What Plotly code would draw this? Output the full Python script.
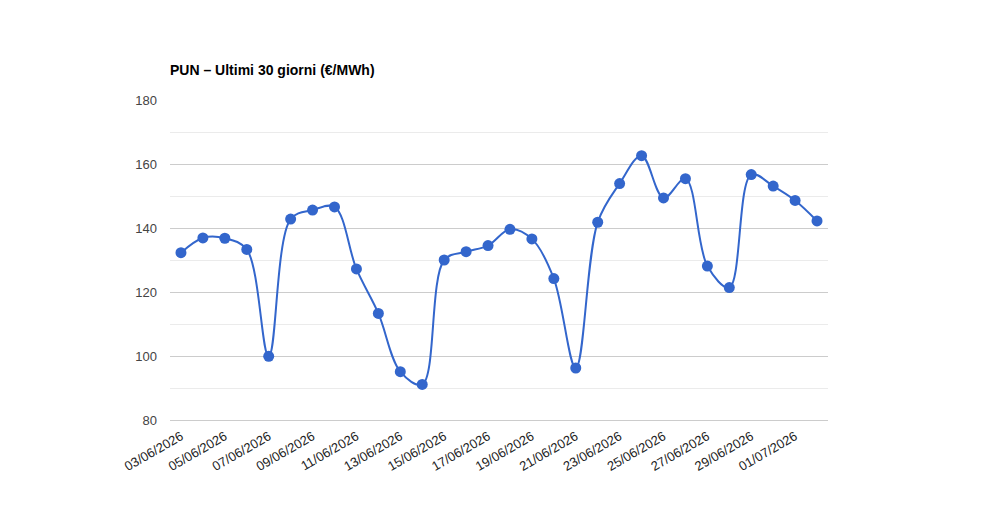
import plotly.graph_objects as go

dates = ["03/06/2026", "04/06/2026", "05/06/2026", "06/06/2026", "07/06/2026", "08/06/2026",
         "09/06/2026", "10/06/2026", "11/06/2026", "12/06/2026", "13/06/2026", "14/06/2026",
         "15/06/2026", "16/06/2026", "17/06/2026", "18/06/2026", "19/06/2026", "20/06/2026",
         "21/06/2026", "22/06/2026", "23/06/2026", "24/06/2026", "25/06/2026", "26/06/2026",
         "27/06/2026", "28/06/2026", "29/06/2026", "30/06/2026", "01/07/2026", "02/07/2026"]
pun = [132.3, 136.9, 136.8, 133.3, 99.9, 142.8, 145.6, 146.6, 127.2, 113.3, 95.1, 91.1,
       130.0, 132.6, 134.5, 139.6, 136.6, 124.2, 96.25, 141.8, 153.9, 162.6, 149.4, 155.4,
       128.1, 121.4, 156.7, 153.1, 148.6, 142.2]
tick_labels = dates[::2]
y_ticks = [80, 100, 120, 140, 160, 180]

FONT = "Arial, 'Liberation Sans', sans-serif"

fig = go.Figure()
fig.add_trace(go.Scatter(
    x=dates, y=pun, mode="lines+markers",
    line=dict(color="#3366cc", width=2, shape="spline", smoothing=1),
    marker=dict(color="#3366cc", size=11),
    hoverinfo="x+y", showlegend=False,
))

fig.update_layout(
    width=1000, height=520,
    margin=dict(l=170, r=172, t=100, b=100),
    paper_bgcolor="white", plot_bgcolor="white",
    font=dict(family=FONT, size=13, color="#444444"),
    title=dict(text="<b>PUN – Ultimi 30 giorni (€/MWh)</b>",
               x=170/1000, xref="container", xanchor="left",
               y=1 - 70/520, yref="container", yanchor="middle",
               font=dict(family=FONT, size=14, color="#000000")),
    xaxis=dict(type="category", range=[-0.5, len(dates) - 0.5],
               tickmode="array", tickvals=tick_labels, ticktext=tick_labels,
               tickangle=-30, showgrid=False, zeroline=False,
               showline=True, linecolor="#cccccc", linewidth=1,
               ticks="", ticklabelstandoff=3, tickfont=dict(size=13, color="#222222")),
    yaxis=dict(range=[80, 180], tickvals=y_ticks, showgrid=True, gridcolor="#cccccc",
               gridwidth=1, zeroline=False, showline=False, ticks="",
               ticklabelstandoff=12,
               minor=dict(dtick=10, tick0=80, showgrid=True, gridcolor="#ebebeb", gridwidth=1),
               tickfont=dict(size=13, color="#444444")),
)

fig.write_html("out.html")
